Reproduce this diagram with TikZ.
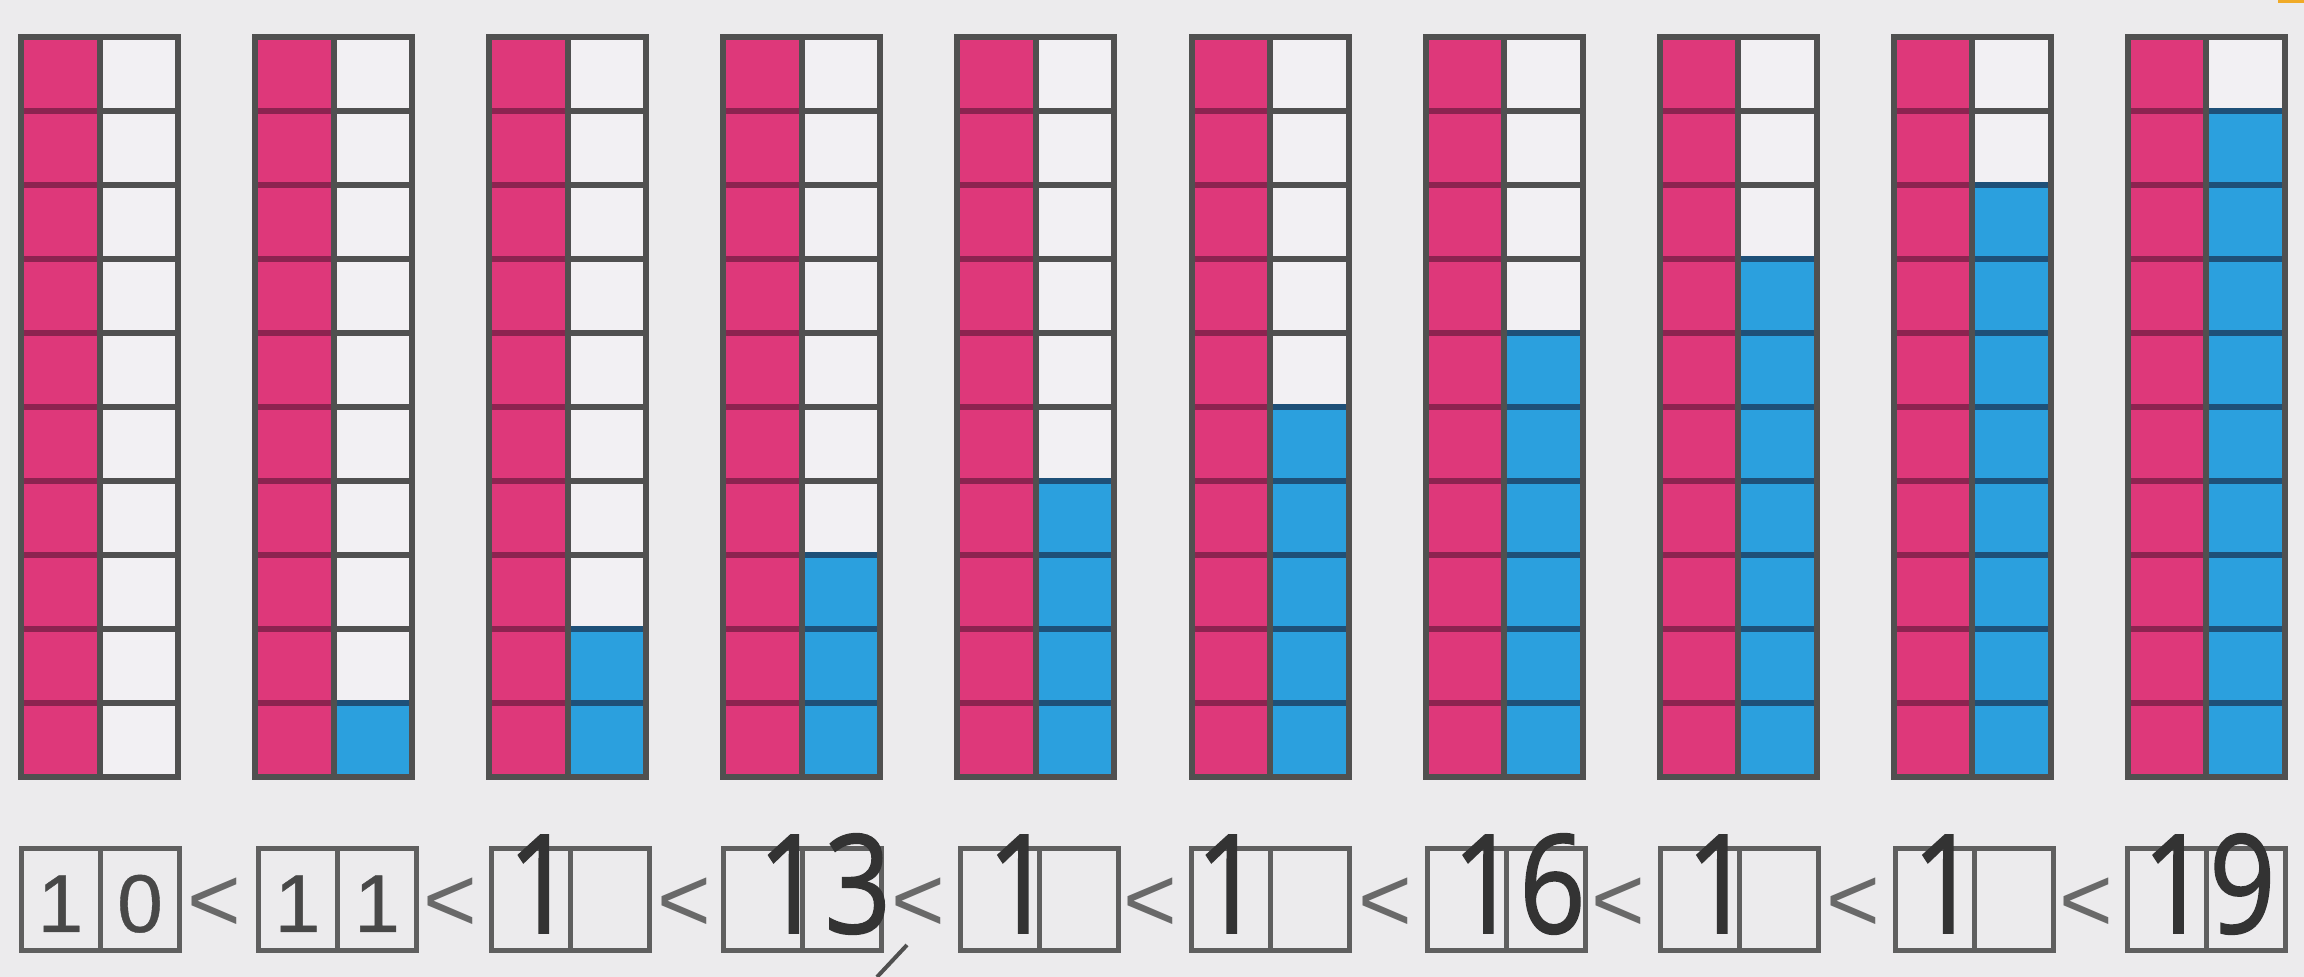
\documentclass[tikz,border=0pt]{standalone}
\usepackage{fontspec}
\setmainfont{Liberation Sans}
\newfontfamily\digfont{Liberation Sans}[FakeBold=0.5]
\newfontfamily\overfont{Open Sans}[FakeBold=1.2]
\definecolor{bgc}{RGB}{236,235,237}
\definecolor{whitec}{RGB}{242,240,243}
\definecolor{pinkc}{RGB}{222,56,122}
\definecolor{bluec}{RGB}{43,160,222}
\definecolor{gridc}{RGB}{80,80,80}
\definecolor{pinklinec}{RGB}{140,35,80}
\definecolor{bluelinec}{RGB}{30,80,120}
\definecolor{boxc}{RGB}{95,95,95}
\definecolor{digitc}{RGB}{72,72,72}
\definecolor{ltc}{RGB}{105,105,105}
\definecolor{overc}{RGB}{51,51,51}
\definecolor{markc}{RGB}{240,170,40}
\tikzset{
  gridline/.style={draw=gridc, line width=3pt},
  pinkline/.style={draw=pinklinec, line width=3pt},
  blueline/.style={draw=bluelinec, line width=3pt},
  boxline/.style={draw=boxc, line width=2.5pt},
  digit/.style={text=digitc, font=\digfont\fontsize{41}{41}\selectfont, inner sep=0pt, anchor=base},
  lt/.style={text=ltc, font=\fontsize{46}{46}\selectfont, inner sep=0pt, anchor=center},
  over/.style={text=overc, font=\overfont\fontsize{68.6}{68.6}\selectfont, inner sep=0pt, anchor=base, xscale=0.85}
}
\begin{document}
\begin{tikzpicture}[x=0.5pt,y=-0.5pt]
\fill[bgc] (0,0) rectangle (2304,977);
\useasboundingbox (0,0) rectangle (2304,977);
\fill[markc] (2278,0) rectangle (2304,3);
% grids
\foreach \i in {0,...,9} {
  \pgfmathsetmacro\L{21+234.1*\i}
  \pgfmathsetmacro\M{\L+78.5}
  \pgfmathsetmacro\R{\L+157}
  \fill[pinkc] (\L,37) rectangle (\M,777);
  \fill[whitec] (\M,37) rectangle (\R,777);
  \ifnum\i>0
    \fill[bluec] (\M,{777-74*\i}) rectangle (\R,777);
  \fi
  \foreach \k in {1,...,9} {
    \pgfmathsetmacro\Y{37+74*\k}
    \pgfmathtruncatemacro\b{(\k>=10-\i) ? 1 : 0}
    \draw[pinkline] (\L,\Y) -- (\M,\Y);
    \ifnum\b=1
      \draw[blueline] (\M,\Y) -- (\R,\Y);
    \else
      \draw[gridline] (\M,\Y) -- (\R,\Y);
    \fi
  }
  \draw[gridline] (\M,37) -- (\M,777);
  \draw[gridline] (\L,37) rectangle (\R,777);
}
% bottom boxes
\foreach \L in {21,258,491,723,960,1191,1427,1660,1895,2127} {
  \draw[boxline] (\L,849) rectangle ({\L+158},951);
  \draw[boxline] ({\L+79},849) -- ({\L+79},951);
}
% less-than signs
\node[lt] (lt1) at (214,905) {<};
\node[lt] (lt2) at (450,905) {<};
\node[lt] (lt3) at (684,905) {<};
\node[lt] (lt4) at (918,905) {<};
\node[lt] (lt5) at (1150,905) {<};
\node[lt] (lt6) at (1385,905) {<};
\node[lt] (lt7) at (1618,905) {<};
\node[lt] (lt8) at (1853,905) {<};
\node[lt] (lt9) at (2086,905) {<};
% printed digits
\node[digit] (d1a) at (60.5,932) {1};
\node[digit] (d1b) at (140,932) {0};
\node[digit] (d2a) at (297.5,932) {1};
\node[digit] (d2b) at (377,932) {1};
% overlay numbers
\node[over] (o3) at (541,933) {1};
\node[over] (o4) at (824.5,933) {13};
\node[over] (o5) at (1020.5,933) {1};
\node[over] (o6) at (1229,933) {1};
\node[over] (o7) at (1519,933) {16};
\node[over] (o8) at (1719.5,933) {1};
\node[over] (o9) at (1945.5,933) {1};
\node[over] (o10) at (2209,933) {19};
% stray pen mark
\draw[draw=gridc, line width=2pt] (907,945) -- (877,977);
\end{tikzpicture}
\end{document}
